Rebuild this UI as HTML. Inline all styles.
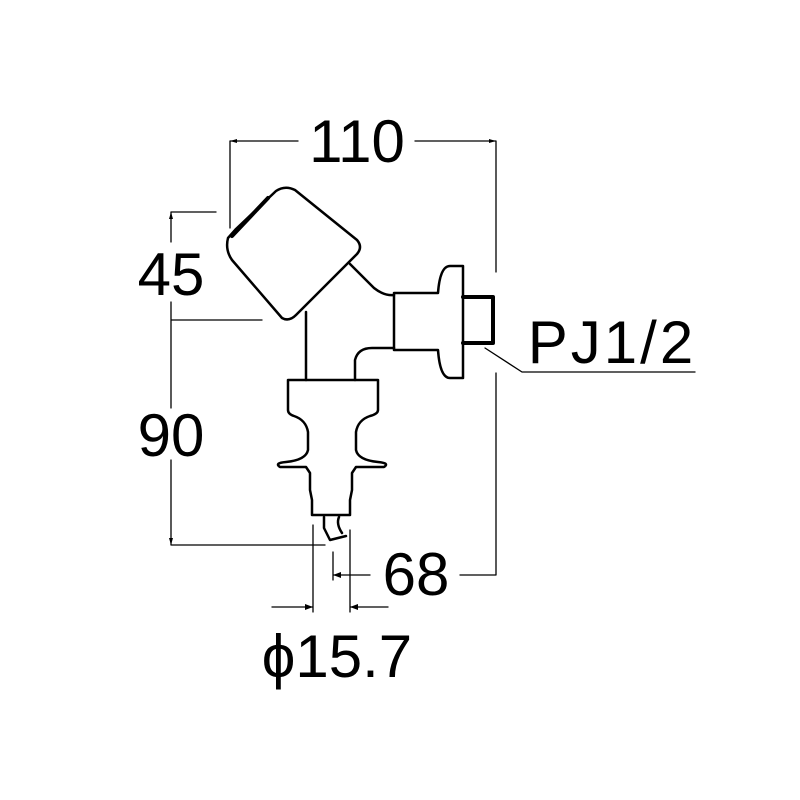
<!DOCTYPE html>
<html><head><style>html,body{margin:0;background:#fff}svg{display:block}</style></head><body>
<svg width="800" height="800" viewBox="0 0 800 800" xmlns="http://www.w3.org/2000/svg" fill="none" stroke="#000" stroke-linecap="round" stroke-linejoin="round">
<g stroke-width="1.3">
<path d="M230 228V141H298M415 141H496V272M496 373V575H460"/>
<path d="M216 212H171V242M171 302V408M171 460V545H325M171 320H262"/>
<path d="M333 552V580M333 575H370"/>
<path d="M313 525V612M350 530V612M272 607H313M350 607H388"/>
<path d="M485 348L522 372H695"/>
</g>
<g fill="#000" stroke="none">
<path d="M313 607l-8-3v6z M350 607l8-3v6z M333 575l8-3v6z M171 212l-2 7h4z M171 545l-2-7h4z M230 141l7-2v4z M496 141l-7-2v4z"/>
</g>
<g stroke-width="2.5">
<path d="M236 229L276 191Q285 185 295 190L357 240Q363 247 357 254L296 315Q289 322 282 318L232 260Q225 250 228 238Z"/>
<path d="M232 236L268 198" stroke-width="4"/>
<path d="M350 264L374 288Q384 296 394 295"/>
<path d="M306 312V380M355 380V360Q358 348 372 348H394"/>
<path d="M394 293H438Q440 266 450 266H463V378H450Q440 378 438 350H394Z"/>
<path d="M463 297H493V343H463" stroke-width="4"/>
<path d="M288 380H378V410Q378 414 370 416Q358 420 356 432V450Q358 460 378 462Q390 463 384 467H356L352 473V490L350 500V515H312V500L310 490V473L306 467H280Q274 463 286 462Q306 460 308 450V432Q306 420 294 416Q288 414 288 410Z"/>
<path d="M324 517V528L330 540L346 536M339 517Q336 524 342 533"/>
</g>
<g fill="#000" stroke="none" font-family="Liberation Sans, sans-serif" font-size="60" text-anchor="middle">
<text x="357" y="162">110</text>
<text x="171" y="295">45</text>
<text x="171" y="456">90</text>
<text x="416" y="595">68</text>
<text x="337" y="677">ϕ15.7</text>
<text x="612" y="363" letter-spacing="3">PJ1/2</text>
</g>
</svg>
</body></html>
